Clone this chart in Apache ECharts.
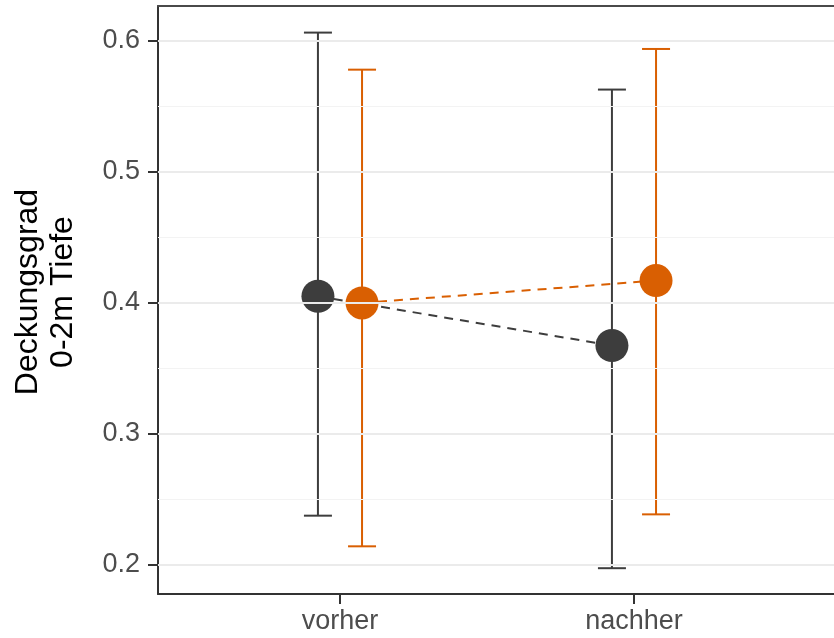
<!DOCTYPE html>
<html>
<head>
<meta charset="utf-8">
<script src="https://cdn.jsdelivr.net/npm/echarts@6/dist/echarts.min.js"></script>
<style>html,body{margin:0;padding:0;background:#fff}#c{width:834px;height:638px}</style>
</head>
<body>
<div id="c"></div>
<script>
// ---- data ----
var categories = ['vorher', 'nachher'];
var yTitle = 'Deckungsgrad\n0-2m Tiefe';
var majorTicks = [0.2, 0.3, 0.4, 0.5, 0.6];
var minorTicks = [0.25, 0.35, 0.45, 0.55];
// group A (dark)
var darkMean = [0.4046, 0.367];
var darkLow  = [0.2371, 0.197];
var darkHigh = [0.6059, 0.5624];
// group B (orange)
var orangeMean = [0.3995, 0.4166];
var orangeLow  = [0.2137, 0.2381];
var orangeHigh = [0.5776, 0.5934];

var dodge = 0.075;
var DARK = '#3d3d3d', ORANGE = '#d95f02';
var FONT = 'Liberation Sans, Arial, Helvetica, sans-serif';

function pts(mean, off) { return mean.map(function (v, i) { return [i + 1 + off, v]; }); }
function bars(low, high, off) { return low.map(function (v, i) { return [i + 1 + off, v, high[i]]; }); }

function errRender(color) {
  return function (params, api) {
    var x = api.value(0), lo = api.value(1), hi = api.value(2);
    var pLo = api.coord([x, lo]), pHi = api.coord([x, hi]);
    var hw = 14;
    var st = { stroke: color, lineWidth: 2 };
    return { type: 'group', children: [
      { type: 'line', shape: { x1: pLo[0], y1: pLo[1], x2: pHi[0], y2: pHi[1] }, style: st },
      { type: 'line', shape: { x1: pLo[0] - hw, y1: pLo[1], x2: pLo[0] + hw, y2: pLo[1] }, style: st },
      { type: 'line', shape: { x1: pHi[0] - hw, y1: pHi[1], x2: pHi[0] + hw, y2: pHi[1] }, style: st }
    ]};
  };
}

var chart = echarts.init(document.getElementById('c'), null, { renderer: 'canvas' });
chart.setOption({
  animation: false,
  backgroundColor: '#fff',
  grid: { left: 158, top: 6, bottom: 44, right: 0, show: false },
  graphic: [{
    type: 'text', x: 46, y: 292, rotation: Math.PI / 2,
    style: { text: yTitle, font: '32px ' + FONT, fill: '#000', align: 'center', verticalAlign: 'middle', lineHeight: 35 }
  }],
  xAxis: [{
    type: 'value', min: 0.381, max: 2.6803, position: 'bottom',
    splitLine: { show: false },
    axisLine: { show: true, lineStyle: { color: '#333', width: 2 } },
    axisTick: { show: true, customValues: [1, 2], length: 10, lineStyle: { color: '#333', width: 2 } },
    axisLabel: { customValues: [1, 2], margin: 14, fontSize: 27, fontFamily: FONT, color: '#4d4d4d',
      formatter: function (v) { return categories[Math.round(v) - 1]; } }
  }, {
    type: 'value', min: 0.381, max: 2.6803, position: 'top',
    splitLine: { show: false },
    axisLine: { show: true, lineStyle: { color: '#4a4a4a', width: 2 } },
    axisTick: { show: false }, axisLabel: { show: false }
  }],
  yAxis: {
    type: 'value', min: 0.1773, max: 0.6262,
    splitLine: { show: false },
    axisLine: { show: true, lineStyle: { color: '#333', width: 2 } },
    axisTick: { show: true, customValues: majorTicks, length: 10, lineStyle: { color: '#333', width: 2 } },
    axisLabel: { customValues: majorTicks, margin: 18, fontSize: 27, fontFamily: FONT, color: '#4d4d4d',
      formatter: function (v) { return v.toFixed(1); } }
  },
  series: [
    { type: 'line', data: [], silent: true, z: 0,
      markLine: { silent: true, symbol: 'none', label: { show: false }, animation: false,
        data: majorTicks.map(function (v) { return { yAxis: v, lineStyle: { color: '#ebebeb', width: 2, type: 'solid' } }; })
          .concat(minorTicks.map(function (v) { return { yAxis: v, lineStyle: { color: '#f3f3f3', width: 1, type: 'solid' } }; })) } },
    { type: 'custom', renderItem: errRender(DARK), data: bars(darkLow, darkHigh, -dodge), z: 2, silent: true },
    { type: 'custom', renderItem: errRender(ORANGE), data: bars(orangeLow, orangeHigh, dodge), z: 2, silent: true },
    { type: 'line', data: pts(darkMean, -dodge), symbol: 'none', z: 3, silent: true,
      lineStyle: { color: DARK, width: 2, type: [9, 7] } },
    { type: 'line', data: pts(orangeMean, dodge), symbol: 'none', z: 3, silent: true,
      lineStyle: { color: ORANGE, width: 2, type: [9, 7] } },
    { type: 'scatter', data: pts(darkMean, -dodge), symbolSize: 33, z: 4, silent: true,
      itemStyle: { color: DARK, opacity: 1 } },
    { type: 'scatter', data: pts(orangeMean, dodge), symbolSize: 33, z: 4, silent: true,
      itemStyle: { color: ORANGE, opacity: 1 } }
  ]
});
</script>
</body>
</html>
